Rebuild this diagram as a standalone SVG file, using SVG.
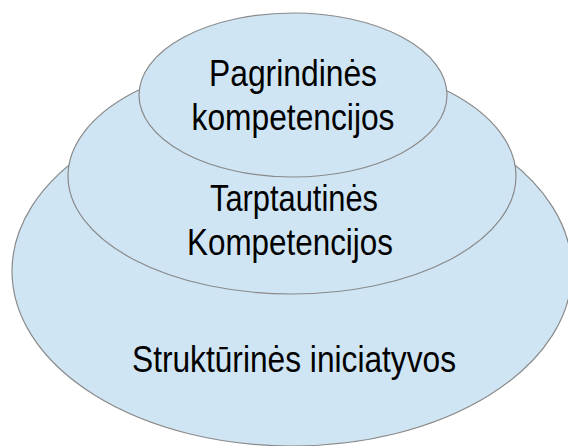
<svg xmlns="http://www.w3.org/2000/svg" width="568" height="446" viewBox="0 0 568 446">
  <style>
    .layer { fill: #cfe5f3; stroke: #8a8a8a; stroke-width: 1.2; }
    .label { font-family: "Liberation Sans", Arial, sans-serif; font-size: 36px; fill: #000; text-anchor: middle; }
  </style>
  <rect width="568" height="446" fill="#ffffff"/>
  <!-- outer layer -->
  <g id="strukturines">
    <ellipse class="layer" cx="292" cy="271" rx="280" ry="175"/>
    <text class="label" x="294" y="372" textLength="324" lengthAdjust="spacingAndGlyphs">Struktūrinės iniciatyvos</text>
  </g>
  <!-- middle layer -->
  <g id="tarptautines">
    <ellipse class="layer" cx="292" cy="176" rx="224" ry="118"/>
    <text class="label" x="294" y="211" textLength="168" lengthAdjust="spacingAndGlyphs">Tarptautinės</text>
    <text class="label" x="290" y="255" textLength="206" lengthAdjust="spacingAndGlyphs">Kompetencijos</text>
  </g>
  <!-- inner layer -->
  <g id="pagrindines">
    <ellipse class="layer" cx="293" cy="95" rx="154" ry="82"/>
    <text class="label" x="293" y="86" textLength="168" lengthAdjust="spacingAndGlyphs">Pagrindinės</text>
    <text class="label" x="293" y="130" textLength="203" lengthAdjust="spacingAndGlyphs">kompetencijos</text>
  </g>
  <g id="connectors"/>
</svg>
